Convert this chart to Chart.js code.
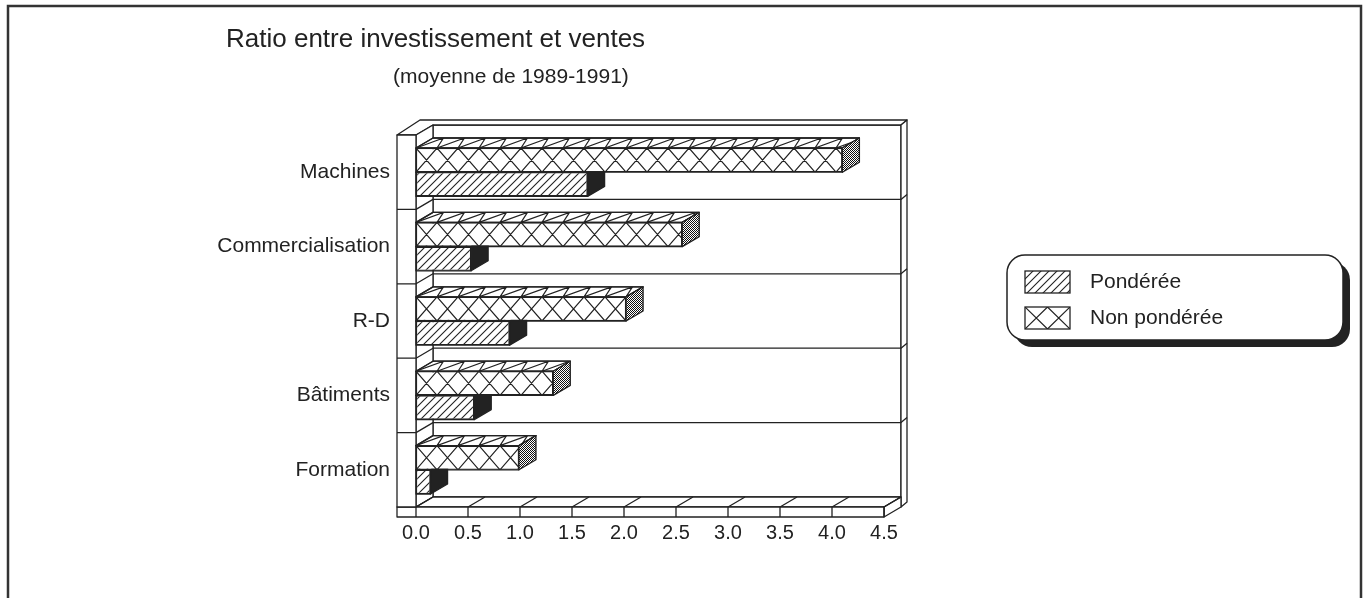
<!DOCTYPE html>
<html>
<head>
<meta charset="utf-8">
<title>Ratio entre investissement et ventes</title>
<script src="https://cdn.jsdelivr.net/npm/chart.js@4/dist/chart.umd.min.js"></script>
<style>
  html, body { margin: 0; padding: 0; background: #fff; }
  canvas { display: block; }
</style>
</head>
<body>
<canvas id="chart" width="1367" height="598"></canvas>
<script>
const categories = ['Machines', 'Commercialisation', 'R-D', 'Bâtiments', 'Formation'];
const ponderee = [1.65, 0.53, 0.90, 0.56, 0.14];
const nonPonderee = [4.10, 2.56, 2.02, 1.32, 0.99];
const xMin = 0;
const xMax = 4.5;
const xStep = 0.5;
const titleText = 'Ratio entre investissement et ventes';
const subtitleText = '(moyenne de 1989-1991)';

const FONT = '"Liberation Sans", Arial, Helvetica, sans-serif';
const INK = '#222';
const depth = { dx: 17, dy: -10, wall: 19, floor: 10, slabX: 6, slabY: -5 };

const canvas = document.getElementById('chart');
const ctx = canvas.getContext('2d');

function makeTile(w, h, draw) {
    const c = document.createElement('canvas');
    c.width = w;
    c.height = h;
    draw(c.getContext('2d'));
    return ctx.createPattern(c, 'repeat');
}

const hatch = makeTile(8, 8, t => {
    t.fillStyle = '#fff';
    t.fillRect(0, 0, 8, 8);
    t.strokeStyle = INK;
    t.lineWidth = 1.1;
    t.beginPath();
    t.moveTo(0, 8); t.lineTo(8, 0);
    t.moveTo(-2, 2); t.lineTo(2, -2);
    t.moveTo(6, 10); t.lineTo(10, 6);
    t.stroke();
});

const stipple = makeTile(2, 2, t => {
    t.fillStyle = '#fff';
    t.fillRect(0, 0, 2, 2);
    t.fillStyle = '#111';
    t.fillRect(0, 0, 1, 1);
    t.fillRect(1, 1, 1, 1);
});

function poly(c, pts, fill) {
    c.beginPath();
    pts.forEach((p, i) => i ? c.lineTo(p[0], p[1]) : c.moveTo(p[0], p[1]));
    c.closePath();
    if (fill) {
        c.fillStyle = fill;
        c.fill();
    }
    c.stroke();
}

function crossLines(c, x0, y0, x1, y1, w) {
    c.save();
    c.beginPath();
    c.rect(x0, y0, x1 - x0, y1 - y0);
    c.clip();
    c.beginPath();
    for (let x = x0; x < x1; x += w) {
        c.moveTo(x, y0); c.lineTo(x + w, y1);
        c.moveTo(x + w, y0); c.lineTo(x, y1);
    }
    c.lineWidth = 1.2;
    c.stroke();
    c.restore();
}

function faceSwatch(c, style, x, y, w, h) {
    c.fillStyle = style === 'cross' ? '#fff' : hatch;
    c.fillRect(x, y, w, h);
    if (style === 'cross') crossLines(c, x, y, x + w, y + h, w / 2);
    c.strokeRect(x, y, w, h);
}

const frame = {
    id: 'frame',
    beforeDraw(chart) {
        const c = chart.ctx;
        c.save();
        c.fillStyle = '#fff';
        c.fillRect(0, 0, chart.width, chart.height);
        c.strokeStyle = '#333';
        c.lineWidth = 2.5;
        c.strokeRect(8, 6, chart.width - 14, chart.height + 10);
        c.fillStyle = INK;
        c.textBaseline = 'alphabetic';
        c.font = '26px ' + FONT;
        c.fillText(titleText, 226, 47);
        c.font = '21px ' + FONT;
        c.fillText(subtitleText, 393, 83);
        c.restore();
    }
};

const walls = {
    id: 'walls',
    beforeDatasetsDraw(chart) {
        const c = chart.ctx;
        const { left, right, top, bottom } = chart.chartArea;
        const { dx, dy, wall, floor, slabX, slabY } = depth;
        const n = chart.data.labels.length;
        const rowH = (bottom - top) / n;
        const xs = chart.scales.x;
        c.save();
        c.strokeStyle = INK;
        c.lineWidth = 1.3;
        c.lineJoin = 'round';

        // back wall and its slab edges
        poly(c, [[left + dx, top + dy], [right + dx, top + dy], [right + dx, bottom + dy], [left + dx, bottom + dy]], '#fff');
        poly(c, [[left - wall, top], [left, top], [left + dx, top + dy], [right + dx, top + dy],
            [right + dx + slabX, top + dy + slabY], [left - wall + dx + slabX, top + dy + slabY]], '#fff');
        poly(c, [[right + dx, top + dy], [right + dx + slabX, top + dy + slabY],
            [right + dx + slabX, bottom + dy + floor + slabY], [right + dx, bottom + dy + floor]], '#fff');

        // left wall inner side
        poly(c, [[left, top], [left + dx, top + dy], [left + dx, bottom + dy], [left, bottom]], '#fff');

        c.beginPath();
        for (let i = 1; i < n; i++) {
            const y = top + i * rowH;
            c.moveTo(left, y); c.lineTo(left + dx, y + dy);
            c.lineTo(right + dx, y + dy); c.lineTo(right + dx + slabX, y + dy + slabY);
        }
        c.stroke();

        // floor
        poly(c, [[left, bottom], [right, bottom], [right + dx, bottom + dy], [left + dx, bottom + dy]], '#fff');
        poly(c, [[right, bottom], [right + dx, bottom + dy], [right + dx, bottom + dy + floor], [right, bottom + floor]], '#fff');
        poly(c, [[left - wall, bottom], [right, bottom], [right, bottom + floor], [left - wall, bottom + floor]], '#fff');
        c.beginPath();
        xs.ticks.forEach(t => {
            const px = xs.getPixelForValue(t.value);
            c.moveTo(px, bottom + floor); c.lineTo(px, bottom);
            c.lineTo(px + dx, bottom + dy);
        });
        c.stroke();

        // left wall front
        poly(c, [[left - wall, top], [left, top], [left, bottom], [left - wall, bottom]], '#fff');
        c.beginPath();
        for (let i = 1; i < n; i++) {
            const y = top + i * rowH;
            c.moveTo(left - wall, y); c.lineTo(left, y);
        }
        c.stroke();
        c.restore();
    }
};

const bars3d = {
    id: 'bars3d',
    afterDatasetDraw(chart, args) {
        const ds = chart.data.datasets[args.index];
        const c = chart.ctx;
        const { dx, dy } = depth;
        c.save();
        c.strokeStyle = INK;
        c.lineWidth = 1.3;
        c.lineJoin = 'round';
        args.meta.data.forEach(bar => {
            const { x, y, base, height } = bar.getProps(['x', 'y', 'base', 'height'], true);
            const x0 = Math.min(x, base), x1 = Math.max(x, base);
            const y0 = y - height / 2, y1 = y + height / 2;

            if (ds.faceStyle === 'cross') crossLines(c, x0, y0, x1, y1, 21);
            c.strokeRect(x0, y0, x1 - x0, y1 - y0);

            const topFace = [[x0, y0], [x1, y0], [x1 + dx, y0 + dy], [x0 + dx, y0 + dy]];
            poly(c, topFace, ds.faceStyle === 'cross' ? '#fff' : hatch);
            if (ds.faceStyle === 'cross') {
                c.save();
                c.beginPath();
                topFace.forEach((p, i) => i ? c.lineTo(p[0], p[1]) : c.moveTo(p[0], p[1]));
                c.closePath();
                c.clip();
                c.beginPath();
                for (let xx = x0; xx < x1; xx += 21) {
                    c.moveTo(xx, y0);
                    c.lineTo(xx + 10.5 + dx, y0 + dy);
                    c.lineTo(xx + 21, y0);
                }
                c.lineWidth = 1.2;
                c.stroke();
                c.restore();
                poly(c, topFace);
            }
            poly(c, [[x1, y0], [x1 + dx, y0 + dy], [x1 + dx, y1 + dy], [x1, y1]], ds.sideFill);
        });
        c.restore();
    }
};

const legendBox = {
    id: 'legendBox',
    afterDraw(chart) {
        const c = chart.ctx;
        const box = { x: 1007, y: 255, w: 336, h: 85, r: 18, shadow: 7 };
        c.save();
        c.fillStyle = INK;
        c.beginPath();
        c.roundRect(box.x + box.shadow, box.y + box.shadow, box.w, box.h, box.r);
        c.fill();
        c.fillStyle = '#fff';
        c.strokeStyle = INK;
        c.lineWidth = 1.5;
        c.beginPath();
        c.roundRect(box.x, box.y, box.w, box.h, box.r);
        c.fill();
        c.stroke();

        const items = chart.data.datasets.slice().sort((a, b) => b.order - a.order);
        c.font = '21px ' + FONT;
        c.textBaseline = 'middle';
        items.forEach((ds, i) => {
            const cy = 282 + i * 36;
            c.lineWidth = 1.3;
            faceSwatch(c, ds.faceStyle, 1025, cy - 11, 45, 22);
            c.fillStyle = INK;
            c.fillText(ds.label, 1090, cy);
        });
        c.restore();
    }
};

const chart = new Chart(ctx, {
    type: 'bar',
    data: {
        labels: categories,
        datasets: [
            {
                label: 'Non pondérée',
                data: nonPonderee,
                backgroundColor: '#fff',
                faceStyle: 'cross',
                sideFill: stipple,
                order: 0
            },
            {
                label: 'Pondérée',
                data: ponderee,
                backgroundColor: hatch,
                faceStyle: 'hatch',
                sideFill: INK,
                order: 1
            }
        ]
    },
    options: {
        indexAxis: 'y',
        responsive: false,
        animation: false,
        layout: {
            padding: { left: 0, right: 483, top: 135, bottom: 0 }
        },
        datasets: {
            bar: {
                categoryPercentage: 0.65,
                barPercentage: 1,
                borderWidth: 1.3,
                borderColor: INK,
                borderSkipped: false
            }
        },
        scales: {
            x: {
                min: xMin,
                max: xMax,
                ticks: {
                    stepSize: xStep,
                    callback: v => v.toFixed(1),
                    color: INK,
                    font: { family: FONT, size: 20 },
                    padding: 14,
                    maxRotation: 0
                },
                grid: { display: false, drawTicks: false },
                border: { display: false },
                afterFit: s => { s.height = 91; }
            },
            y: {
                ticks: {
                    color: INK,
                    font: { family: FONT, size: 21 },
                    padding: 26
                },
                grid: { display: false, drawTicks: false },
                border: { display: false },
                afterFit: s => { s.width = 416; }
            }
        },
        plugins: {
            legend: { display: false },
            tooltip: { enabled: false }
        }
    },
    plugins: [frame, walls, bars3d, legendBox]
});
</script>
</body>
</html>
